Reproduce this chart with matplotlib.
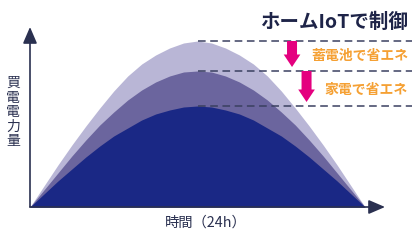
import matplotlib
matplotlib.use("Agg")
import matplotlib.pyplot as plt

plt.rcParams['font.family'] = ['Noto Sans CJK JP', 'DejaVu Sans']

# hours of the day and purchased power (arbitrary units)
hours = list(range(25))
before = [0, 21, 42, 62, 81, 99, 116, 131, 143, 152, 159, 164, 166,
          164, 159, 152, 143, 131, 116, 99, 81, 62, 42, 21, 0]
with_battery = [0, 17, 34, 51, 67, 82, 95, 107, 117, 125, 131, 135, 136,
                135, 131, 125, 117, 107, 95, 82, 67, 51, 34, 17, 0]
with_iot = [0, 13, 26, 38, 50, 61, 71, 79, 87, 93, 97, 100, 101,
            100, 97, 93, 87, 79, 71, 61, 50, 38, 26, 13, 0]

title_text = "ホームIoTで制御"
step_labels = ["蓄電池で省エネ", "家電で省エネ"]
y_label = "買電電力量"
x_label = "時間（24h）"

c_light = "#b9b6d6"
c_mid = "#6b659e"
c_dark = "#1a2885"
c_navy = "#1e2448"
c_orange = "#f5a033"
c_magenta = "#e4007f"

fig = plt.figure(figsize=(4.2, 2.4), dpi=100)
ax = fig.add_axes([30 / 420, 33 / 240, 355 / 420, 180 / 240])
ax.set_xlim(0, 25.43)
ax.set_ylim(0, 180)
ax.axis('off')

ax.fill_between(hours, before, color=c_light, lw=0)
ax.fill_between(hours, with_battery, color=c_mid, lw=0)
ax.fill_between(hours, with_iot, color=c_dark, lw=0)

# axes with arrow heads
for end in [(1, 0), (0, 1)]:
    ax.annotate('', xy=end, xytext=(0, 0), xycoords='axes fraction',
                arrowprops=dict(arrowstyle='-|>,head_length=1.0,head_width=0.43',
                                color="#2a3050", lw=1.2, shrinkA=0, shrinkB=0,
                                mutation_scale=10))

# dashed levels
peaks = [max(before), max(with_battery), max(with_iot)]
ax.hlines(peaks, 12, 27.36, colors="#3a4060", linestyles=(0, (5, 3)),
          lw=1.1, clip_on=False)

# reduction arrows
arrow_x = [18.77, 19.81]
for i, x in enumerate(arrow_x):
    top = peaks[i]
    tip = peaks[i + 1] + 4
    ax.annotate('', xy=(x, tip), xytext=(x, top),
                arrowprops=dict(arrowstyle='simple,head_length=0.9,head_width=1.2,tail_width=0.72',
                                color=c_magenta, lw=0, shrinkA=0, shrinkB=0,
                                mutation_scale=10))

ax.text(27.08, 185, title_text, ha='right', va='center', fontsize=14,
        fontweight='bold', color=c_navy)
ax.text(27.08, 151, step_labels[0], ha='right', va='center', fontsize=10,
        fontweight='bold', color=c_orange)
ax.text(27.08, 117, step_labels[1], ha='right', va='center', fontsize=10,
        fontweight='bold', color=c_orange)

fig.text(13 / 420, 0.533, "\n".join(y_label), ha='center', va='center',
         fontsize=10, linespacing=1.05, color="#2a3050")
fig.text(206 / 420, 0.071, x_label, ha='center', va='center', fontsize=10.3,
         color="#2a3050")

fig.savefig("out.png", dpi=100)
